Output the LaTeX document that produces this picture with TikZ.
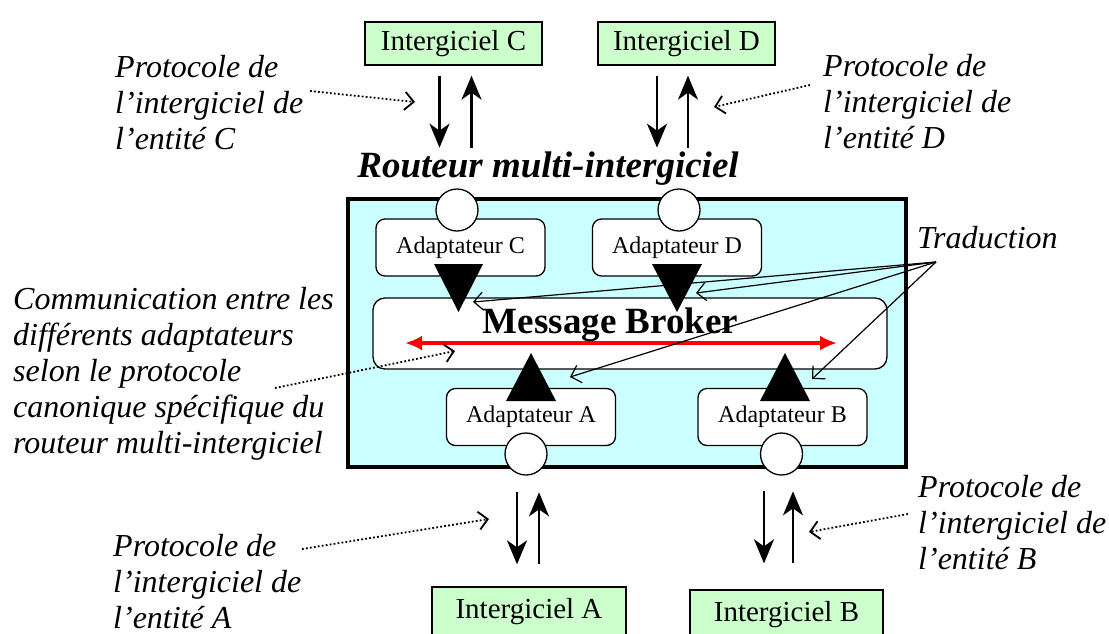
\documentclass[tikz,border=0pt]{standalone}
\usepackage{fontspec}
\setmainfont{Liberation Serif}
\usetikzlibrary{positioning,arrows.meta}
\definecolor{mwgreen}{HTML}{CCFFCC}
\definecolor{routcyan}{HTML}{CCFFFF}
\tikzset{line/.style={draw, -{Straight Barb[length=9pt,width=18pt]}, line width=1.2pt}}

\begin{document}
\begin{tikzpicture}[x=1pt, y=-1pt, node distance={233pt},
  mw/.style = {draw, line width=1.3pt, fill=mwgreen, minimum width=177pt, minimum height=43pt, inner sep=0pt, font=\fontsize{29}{32}\selectfont},
  adapt/.style = {draw, line width=1.3pt, rounded corners=9pt, fill=white, minimum width=169pt, minimum height=57pt, inner sep=0pt, font=\fontsize{24}{27}\selectfont},
  port/.style = {draw, circle, line width=1.3pt, fill=white, minimum size=42pt, inner sep=0pt},
  note/.style = {align=left, anchor=base west, inner sep=0pt, font=\itshape\fontsize{32}{36}\selectfont},
  flow/.style = {line width=2.2pt, -{Stealth[length=24pt,width=20pt,inset=7pt]}},
  dots/.style = {line, dash pattern=on 1.8pt off 2.2pt, line width=1.8pt}]
\useasboundingbox (0,0) rectangle (1109,633);
% the router
\node[draw, line width=4pt, fill=routcyan, minimum width=558pt, minimum height=268pt] (rt) at (627,333) {};
\node[anchor=base, font=\bfseries\itshape\fontsize{37}{40}\selectfont] (rlab) at (548,177) {Routeur multi-intergiciel};
\node[draw, line width=1.3pt, rounded corners=12pt, fill=white, minimum width=514pt, minimum height=71pt] (mb) at (630,333.5) {};
\coordinate (rl) at (405,343);
\coordinate (rr) at (837,343);
\draw[red, line width=4pt, {Latex[length=17pt,width=15pt]}-{Latex[length=17pt,width=15pt]}] (rl) -- (rr);
\node[anchor=base, font=\bfseries\fontsize{37}{40}\selectfont] (mbt) at (610.5,333) {Message Broker};
% adaptateurs
\node[adapt] (ac) at (460.5,247.5) {Adaptateur C};
\node[adapt] (ad) [right of=ac, node distance=216.5pt] {Adaptateur D};
\node[adapt] (aa) at (531,417) {Adaptateur A};
\node[adapt] (ab) [right of=aa, node distance=251.5pt] {Adaptateur B};
\node[port] (pc) at (457,210) {};
\node[port] (pd) at (679,210) {};
\node[port] (pa) at (526,454) {};
\node[port] (pb) at (781.5,454) {};
\fill (434,264) -- (483,264) -- (458.5,312) -- cycle;
\fill (652,264) -- (702,264) -- (677,312) -- cycle;
\fill (506,401) -- (556,401) -- (531,353) -- cycle;
\fill (760,401) -- (810,401) -- (785,353) -- cycle;
% intergiciels
\node[mw] (ic) at (453.5,43.5) {Intergiciel C};
\node[mw] (id) [right of=ic] {Intergiciel D};
\node[mw, minimum width=194pt, minimum height=50pt] (ia) at (529,612) {Intergiciel A};
\node[mw, minimum width=193pt, minimum height=50pt] (ib) [right of=ia, node distance=257.5pt, yshift=-3pt] {Intergiciel B};
\draw[flow] ([xshift=-14pt,yshift=-10pt]ic.south) -- ([xshift=-14pt,yshift=-82pt]ic.south);
\draw[flow] ([xshift=18pt,yshift=-82pt]ic.south) -- ([xshift=18pt,yshift=-10pt]ic.south);
\draw[flow] ([xshift=-29.5pt,yshift=-10pt]id.south) -- ([xshift=-29.5pt,yshift=-82pt]id.south);
\draw[flow] ([xshift=1.5pt,yshift=-82pt]id.south) -- ([xshift=1.5pt,yshift=-10pt]id.south);
\draw[flow] ([xshift=-12pt,yshift=94pt]ia.north) -- ([xshift=-12pt,yshift=22pt]ia.north);
\draw[flow] ([xshift=10pt,yshift=22pt]ia.north) -- ([xshift=10pt,yshift=94pt]ia.north);
\draw[flow] ([xshift=-22.5pt,yshift=98pt]ib.north) -- ([xshift=-22.5pt,yshift=26pt]ib.north);
\draw[flow] ([xshift=6.5pt,yshift=26pt]ib.north) -- ([xshift=6.5pt,yshift=98pt]ib.north);
% notes (base = last line)
\node[note] (nc) at (115,149) {Protocole de\\l’intergiciel de\\l’entité C};
\node[note] (nd) at (823,148) {Protocole de\\l’intergiciel de\\l’entité D};
\node[note] (ncom) at (13,453) {Communication entre les\\différents adaptateurs\\selon le protocole\\canonique spécifique du\\routeur multi-intergiciel};
\node[note] (na) at (113,628) {Protocole de\\l’intergiciel de\\l’entité A};
\node[note] (nb) at (918,569) {Protocole de\\l’intergiciel de\\l’entité B};
\node[note] (trad) at (917,248) {Traduction};
\coordinate (cs) at (310,91);  \coordinate (ce) at (415,102);
\coordinate (ds) at (810,85);  \coordinate (de) at (714,107);
\coordinate (ms) at (275,388); \coordinate (me) at (455,351);
\coordinate (as) at (302,549); \coordinate (ae) at (489,519);
\coordinate (bs) at (908,514); \coordinate (be) at (809,532);
\draw[dots] (cs) -- (ce);
\draw[dots] (ds) -- (de);
\draw[dots] (ms) -- (me);
\draw[dots] (as) -- (ae);
\draw[dots] (bs) -- (be);
% traduction
\coordinate (to) at (936,262);
\coordinate (tc) at (473,302);
\coordinate (td) at (696,293);
\coordinate (ta) at (570,377);
\coordinate (tb) at (812,379);
\draw[line] (to) -- (tc);
\draw[line] (to) -- (td);
\draw[line] (to) -- (ta);
\draw[line] (to) -- (tb);
\end{tikzpicture}
\end{document}
